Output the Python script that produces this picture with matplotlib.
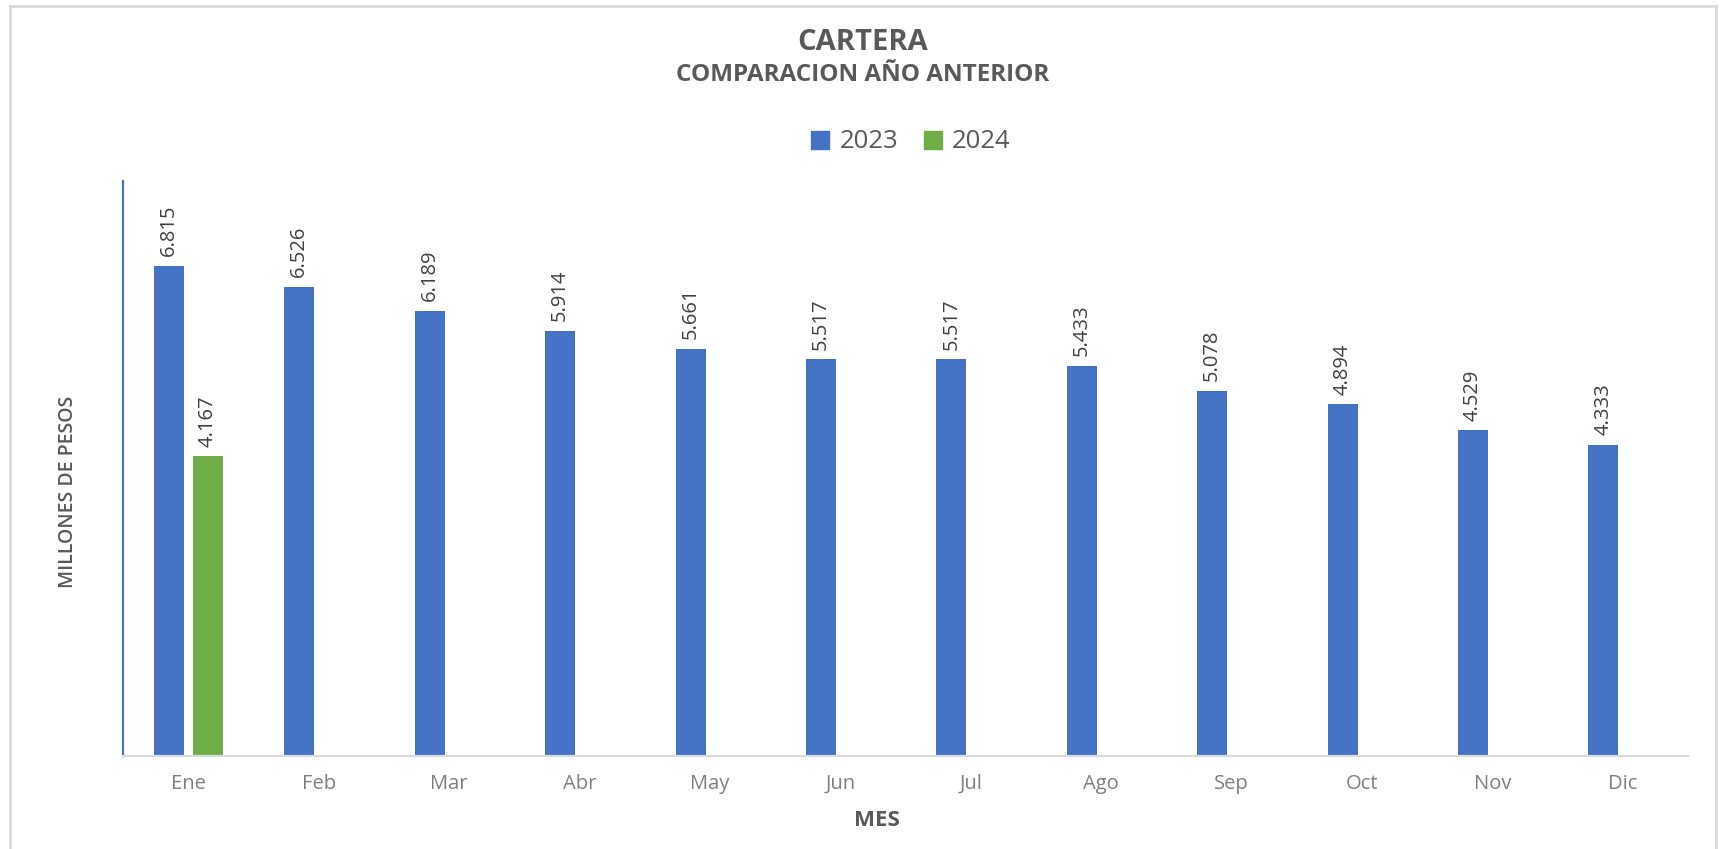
import numpy as np
import matplotlib.pyplot as plt
from matplotlib.lines import Line2D
from matplotlib.patches import Patch

plt.rcParams['font.family'] = ['Open Sans', 'DejaVu Sans']

meses = ["Ene", "Feb", "Mar", "Abr", "May", "Jun", "Jul", "Ago", "Sep", "Oct", "Nov", "Dic"]
cartera_2023 = [6.815, 6.526, 6.189, 5.914, 5.661, 5.517, 5.517, 5.433, 5.078, 4.894, 4.529, 4.333]
cartera_2024 = [4.167, None, None, None, None, None, None, None, None, None, None, None]

AZUL = "#4472C4"
VERDE = "#70AD47"
GRIS = "#595959"

W, H = 1725, 849
fig = plt.figure(figsize=(W / 100, H / 100), dpi=100)
ax = fig.add_axes([123 / W, 1 - 756 / H, (1688 - 123) / W, (756 - 181) / H])

x = np.arange(len(meses))
v23 = np.array(cartera_2023, dtype=float)
v24 = np.array([np.nan if v is None else v for v in cartera_2024])
ancho = 0.23
desp = 0.148

b23 = ax.bar(x - desp, v23, ancho, color=AZUL, zorder=2)
b24 = ax.bar(x + desp, v24, ancho, color=VERDE, zorder=2)

for barras, vals in ((b23, v23), (b24, v24)):
    for b, v in zip(barras, vals):
        if np.isnan(v):
            continue
        ax.annotate(f"{v:.3f}", (b.get_x() + b.get_width() / 2, v),
                    xytext=(0, 7), textcoords="offset points",
                    rotation=90, ha="center", va="bottom",
                    fontsize=14.5, color="#404040")

ax.set_xlim(-0.5, len(meses) - 0.5)
ax.set_ylim(0, 8)
ax.set_xticks(x)
ax.set_xticklabels(meses, fontsize=14.5, color="#7F7F7F")
ax.tick_params(axis="x", length=0, pad=13)
ax.set_yticks([])
for s in ("top", "right"):
    ax.spines[s].set_visible(False)
ax.spines["left"].set_color(AZUL)
ax.spines["left"].set_linewidth(1.6)
ax.spines["bottom"].set_color("#D9D9D9")
ax.spines["bottom"].set_linewidth(1.6)

fig.text(863 / W, 1 - 42 / H, "CARTERA", ha="center", va="center",
         fontsize=21, fontweight="bold", color=GRIS)
fig.text(863 / W, 1 - 75 / H, "COMPARACION AÑO ANTERIOR", ha="center", va="center",
         fontsize=17.5, fontweight="bold", color=GRIS)
fig.text(877 / W, 1 - 820 / H, "MES", ha="center", va="center",
         fontsize=16, fontweight="bold", color=GRIS)
fig.text(68 / W, 1 - 492 / H, "MILLONES DE PESOS", ha="center", va="center",
         rotation=90, fontsize=14, fontweight="semibold", color=GRIS)

handles = [Patch(color=AZUL), Patch(color=VERDE)]
fig.legend(handles, ["2023", "2024"], loc="center", bbox_to_anchor=(911 / W, 1 - 142 / H),
           ncol=2, frameon=False, fontsize=18.5, handlelength=0.7, handleheight=0.7,
           handletextpad=0.4, columnspacing=1.0, labelcolor=GRIS)

# borde del grafico
borde = dict(color="#D9D9D9", linewidth=2, transform=fig.transFigure)
fig.add_artist(Line2D([10 / W, 1716 / W], [1 - 6 / H, 1 - 6 / H], **borde))
fig.add_artist(Line2D([10 / W, 10 / W], [0, 1 - 6 / H], **borde))
fig.add_artist(Line2D([1716 / W, 1716 / W], [0, 1 - 6 / H], **borde))

fig.savefig("out.png", dpi=100)
